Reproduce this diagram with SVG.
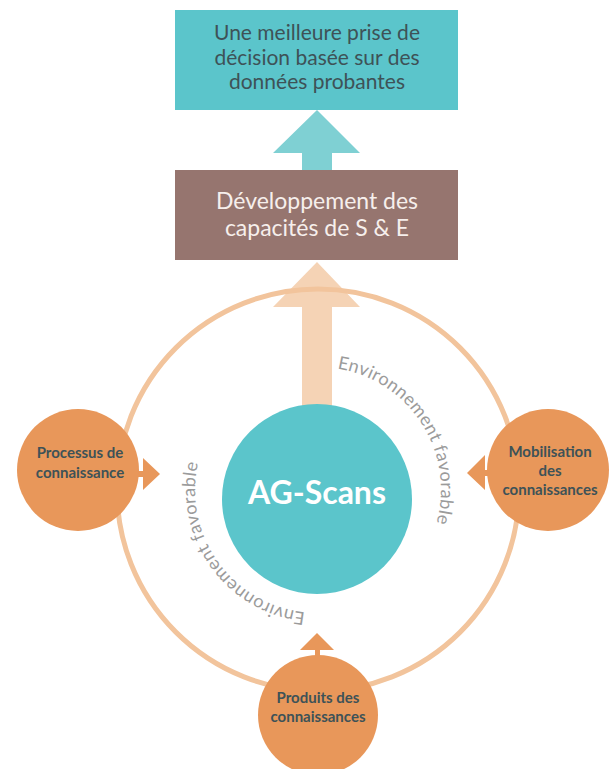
<svg xmlns="http://www.w3.org/2000/svg" xmlns:xlink="http://www.w3.org/1999/xlink" width="610" height="769" viewBox="0 0 610 769">
<style>
.box-text{font-family:Lato,"Open Sans","Liberation Sans",sans-serif;font-size:21px;text-anchor:middle}
.node-text{font-family:Lato,"Open Sans","Liberation Sans",sans-serif;font-size:15px;font-weight:bold;fill:#3D5257;text-anchor:middle}
.arc-text{font-family:Lato,"Open Sans","Liberation Sans",sans-serif;font-size:18px;letter-spacing:0.4px;fill:#9B9B9B}
.orange{fill:#E8975A}
</style>
<defs>
<path id="arc1" d="M337.2,368.5 A123,123 0 0 1 412.2,569.1"/>
<path id="arc2" d="M305.1,612.3 A123,123 0 0 1 211.5,428.5"/>
</defs>
<rect width="610" height="769" fill="#FFFFFF"/>
<g id="connectors">
<circle id="ring" cx="318" cy="490" r="201" fill="none" stroke="#F2C49C" stroke-width="5"/>
<polygon id="arrow-teal" points="317,110 360,153 332,153 332,170 302,170 302,153 273,153" fill="#7FD0D3"/>
<polygon id="arrow-big" points="317,262 360,307 332,307 332,420 302,420 302,307 273,307" fill="#F2C49C" fill-opacity="0.75"/>
</g>
<g id="node-top">
<rect x="175" y="10" width="283" height="100" fill="#5BC5CB"/>
<text class="box-text" fill="#3E5257"><tspan x="317" y="40">Une meilleure prise de</tspan><tspan x="317" y="65">décision basée sur des</tspan><tspan x="317" y="89">données probantes</tspan></text>
</g>
<g id="node-capacites">
<rect x="175" y="170" width="283" height="90" fill="#96756F"/>
<text class="box-text" fill="#F6EFEC" style="font-size:23px"><tspan x="317" y="209">Développement des</tspan><tspan x="317" y="236">capacités de S &amp; E</tspan></text>
</g>
<g id="node-agscans">
<circle cx="317" cy="499" r="95" fill="#5BC5CB"/>
<text x="317" y="504" font-family="Lato,'Open Sans','Liberation Sans',sans-serif" font-size="32" font-weight="bold" fill="#FFFFFF" text-anchor="middle">AG-Scans</text>
</g>
<g id="labels-env">
<text class="arc-text"><textPath xlink:href="#arc1" href="#arc1">Environnement favorable</textPath></text>
<text class="arc-text"><textPath xlink:href="#arc2" href="#arc2">Environnement favorable</textPath></text>
</g>
<g id="node-processus">
<polygon class="orange" points="136,471 143,471 143,458 160,474 143,490 143,477 136,477"/>
<circle class="orange" cx="78" cy="470" r="61"/>
<text class="node-text"><tspan x="80" y="458">Processus de</tspan><tspan x="80" y="478">connaissance</tspan></text>
</g>
<g id="node-mobilisation">
<polygon class="orange" points="489,470 485,470 485,455 467,473 485,490 485,476 489,476"/>
<circle class="orange" cx="548" cy="470" r="61"/>
<text class="node-text"><tspan x="550" y="457">Mobilisation</tspan><tspan x="550" y="476">des</tspan><tspan x="550" y="495">connaissances</tspan></text>
</g>
<g id="node-produits">
<polygon class="orange" points="315,658 315,650 300,650 317,633 334,650 320,650 320,658"/>
<circle class="orange" cx="318" cy="715" r="60"/>
<text class="node-text"><tspan x="318" y="703">Produits des</tspan><tspan x="318" y="722">connaissances</tspan></text>
</g>
</svg>
